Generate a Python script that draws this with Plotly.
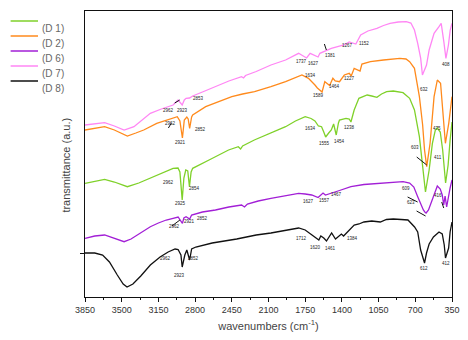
import plotly.graph_objects as go

# ---- FTIR spectra (wavenumber in cm^-1, transmittance in arbitrary units, offset per sample) ----
wn_d1 = [3850, 3757, 3663, 3570, 3446, 3337, 3227, 3103, 3010, 2963, 2945, 2923, 2907, 2889, 2870, 2854,
         2838, 2823, 2749, 2667, 2481, 2388, 2366, 2347, 2235, 2077, 1937, 1843, 1750, 1694, 1657, 1624,
         1594, 1573, 1555, 1526, 1501, 1479, 1454, 1433, 1423, 1361, 1330, 1314, 1283, 1238, 1159, 1115,
         1066, 1022, 973, 910, 817, 754, 708, 661, 630, 603, 568, 537, 509, 490, 462, 439, 411, 387, 368, 350]
t_d1 = [113.7, 116, 117.7, 115, 110.3, 114, 118.7, 124, 128.7, 129, 125, 97, 119, 127, 126, 110.3,
        125, 128.7, 133, 137, 147, 150.3, 148, 151, 157, 163.7, 170.3, 176, 180.3, 178.5, 176, 171,
        170.3, 165, 160, 164, 167, 173, 162, 174, 177, 178.7, 178, 175, 187, 198.7, 202, 201,
        199.7, 203, 205.3, 206, 204.3, 198.7, 187, 160.3, 127, 105, 127, 153.7, 167, 169, 165, 147, 114, 132, 157, 175]

wn_d2 = [3850, 3757, 3663, 3570, 3446, 3365, 3290, 3166, 3057, 2970, 2945, 2921, 2903, 2879, 2866, 2852,
         2833, 2823, 2699, 2590, 2450, 2347, 2233, 2077, 1937, 1781, 1719, 1657, 1634, 1589, 1563, 1535,
         1517, 1486, 1464, 1423, 1377, 1330, 1311, 1283, 1227, 1209, 1128, 1003, 910, 848, 789, 754, 708,
         661, 630, 612, 591, 570, 559, 521, 490, 459, 434, 413, 381, 350]
t_d2 = [167, 169, 170.3, 167, 161, 164, 167, 173.7, 177.5, 180.3, 176, 159, 177, 180, 178, 168.7,
        180, 182, 190.3, 194.5, 200.3, 203, 205.3, 210.3, 215.3, 222, 218.7, 212, 209, 205, 215.3, 213,
        211.5, 218.7, 216, 215.3, 222, 223.7, 221, 228.7, 226, 233, 235.3, 237, 238, 238.7, 238, 235.3, 228.7,
        200.3, 172, 147, 130.3, 147, 153.7, 200.3, 217, 213.7, 180.3, 153.7, 173.7, 200.3]

wn_d6 = [3850, 3757, 3663, 3570, 3477, 3411, 3353, 3290, 3227, 3150, 3075, 3010, 2962, 2921, 2907, 2886,
         2852, 2833, 2730, 2606, 2478, 2357, 2329, 2301, 2198, 2077, 1937, 1813, 1750, 1688, 1627, 1580,
         1557, 1501, 1467, 1423, 1314, 1190, 1034, 910, 817, 754, 714, 677, 649, 623, 609, 597, 574, 546,
         518, 490, 462, 443, 429, 416, 401, 387, 368, 350]
t_d6 = [58.7, 61, 62, 59, 55.3, 58, 62, 66, 70.3, 74, 77, 78.7, 80, 73.7, 79, 80.3,
        78, 82, 85, 87, 90, 92, 90, 93, 96, 98.7, 101.5, 103.7, 103, 102, 99.5, 104,
        102, 104.3, 105, 106.5, 110.3, 112.5, 113.7, 114.5, 115.3, 114, 110, 100.3, 93, 87, 85, 84, 87, 95,
        104, 111, 108, 102, 92, 101, 90, 99, 109, 117]

wn_d7 = [3850, 3757, 3663, 3570, 3477, 3383, 3290, 3227, 3122, 3010, 2962, 2945, 2923, 2903, 2886, 2853,
         2823, 2730, 2606, 2478, 2357, 2338, 2319, 2217, 2077, 1937, 1813, 1769, 1737, 1703, 1627, 1610,
         1548, 1501, 1381, 1330, 1267, 1221, 1152, 1066, 1003, 941, 863, 786, 742, 708, 677, 649, 632, 593,
         568, 521, 474, 453, 428, 408, 384, 367, 350]
t_d7 = [172, 173.5, 174.3, 171, 167, 170.3, 178, 183.7, 188, 192, 197, 195, 192, 197, 198.7, 199,
        201, 205, 210.3, 216, 220.3, 219, 221.5, 225.5, 232, 237, 243.7, 241, 239, 243.7, 240, 243.7,
        247, 248.7, 252, 255, 253, 262, 266, 268.7, 271.5, 273.7, 275, 275.3, 274, 267, 253.7, 239, 222, 232,
        247, 263.7, 270.3, 273.7, 255.3, 238.7, 252, 267, 273.7]

wn_d8 = [3850, 3757, 3682, 3617, 3542, 3486, 3449, 3393, 3318, 3227, 3134, 3057, 2991, 2962, 2935, 2923,
         2898, 2879, 2852, 2833, 2793, 2637, 2403, 2217, 2077, 1937, 1813, 1750, 1712, 1675, 1620, 1601,
         1573, 1547, 1517, 1498, 1461, 1405, 1384, 1330, 1283, 1237, 1190, 1115, 1034, 975, 910, 835, 770,
         707, 677, 649, 612, 593, 568, 527, 474, 443, 424, 412, 382, 368, 350]
t_d8 = [44, 44, 42, 35, 22, 13, 10, 13, 21, 32, 40, 45, 48, 47.5, 42, 30,
        42, 47, 37, 48, 50, 54, 58, 62, 64, 67, 69, 67, 64, 61, 57, 61,
        59, 56, 61, 64, 58, 63, 61, 67, 72, 73, 75, 76, 75, 77.5, 78, 77.5, 77,
        70, 65, 47, 34, 44, 53, 60, 65, 63, 52, 39, 49, 65, 75]

series = [
    ("(D 1)", wn_d1, t_d1, "#7fd12a"),
    ("(D 2)", wn_d2, t_d2, "#ff8a1c"),
    ("(D 6)", wn_d6, t_d6, "#a21fd6"),
    ("(D 7)", wn_d7, t_d7, "#ff86f4"),
    ("(D 8)", wn_d8, t_d8, "#111111"),
]

# peak annotations: (label, wavenumber position, transmittance position)
peak_labels = [
    ("2962", 3057, 187), ("2923", 2917, 187), ("2853", 2766, 199),
    ("1737", 1781, 236), ("1627", 1672, 234), ("1381", 1505, 242),
    ("1267", 1349, 252), ("1152", 1194, 254), ("632", 614, 208), ("408", 404, 233),
    ("2962", 3039, 174), ("2921", 2940, 155), ("2852", 2751, 168),
    ("1634", 1700, 222), ("1589", 1625, 202), ("1464", 1470, 211), ("1227", 1330, 219),
    ("2962", 3057, 115), ("2925", 2938, 94), ("2854", 2810, 109),
    ("1634", 1700, 169), ("1555", 1570, 154), ("1454", 1423, 156), ("1238", 1330, 170),
    ("603", 707, 150), ("475", 490, 169), ("411", 480, 140),
    ("2962", 2994, 71), ("2921", 2853, 76), ("2852", 2730, 79),
    ("1627", 1723, 96), ("1557", 1570, 97), ("1467", 1453, 103),
    ("609", 793, 109), ("623", 740, 95), ("416", 480, 102),
    ("2962", 3082, 39), ("2923", 2953, 22), ("2852", 2813, 39),
    ("1712", 1783, 59), ("1620", 1651, 50), ("1461", 1507, 49), ("1384", 1298, 59),
    ("612", 614, 29), ("412", 404, 34),
]

# short leader strokes: anchor (wavenumber, transmittance) and pixel offset (dx, dy, up = positive)
leaders = [
    (2947, 197, -5, -3), (3026, 174, -3, -5), (1548, 247, -2, 6),
    (591, 132, -10, 8), (678, 95, -10, 5), (602, 81, -9, 5),
    (2945, 77, -8, -6), (429, 89, -2, 6),
]

x_ticks = [3850, 3500, 3150, 2800, 2450, 2100, 1750, 1400, 1050, 700, 350]
x_minor = [3675, 3325, 2975, 2625, 2275, 1925, 1575, 1225, 875, 525]

fig = go.Figure()
for name, x, y, color in series:
    fig.add_trace(go.Scatter(x=x, y=y, mode="lines", name=name,
                             line=dict(color=color, width=1.3), showlegend=False))

for text, x, y in peak_labels:
    fig.add_annotation(x=x, y=y, text=text, showarrow=False,
                       font=dict(size=4.5, color="#222", family="Liberation Sans"))

for x, y, dx, dy in leaders:
    fig.add_shape(type="line", xref="x", yref="y", xsizemode="pixel", ysizemode="pixel",
                  xanchor=x, yanchor=y, x0=0, y0=0, x1=dx, y1=dy,
                  line=dict(color="#111", width=1))

# hand-drawn legend to the left of the plot
L, W, B, H = 85, 375, 297, 286
for i, (name, _, _, color) in enumerate(series):
    py = 21 + i * 15
    yp = (B - py) / H
    fig.add_shape(type="line", xref="paper", yref="paper",
                  x0=(9 - L) / W, x1=(37 - L) / W, y0=yp, y1=yp,
                  line=dict(color=color, width=1.5))
    fig.add_annotation(xref="paper", yref="paper", x=(39 - L) / W, y=yp, text=name,
                       showarrow=False, xanchor="left",
                       font=dict(size=10, color="#666", family="Liberation Sans"))

# vertical axis title
fig.add_annotation(xref="paper", yref="paper", x=(57 - L) / W, y=(B - 165) / H,
                   text="transmittance (a.u.)", textangle=-90, showarrow=False,
                   font=dict(size=11, color="#444", family="Liberation Sans"))

fig.update_layout(
    width=468, height=340,
    margin=dict(l=L, r=8, t=11, b=43),
    paper_bgcolor="white", plot_bgcolor="white",
    font=dict(family="Liberation Sans", color="#333"),
    xaxis=dict(range=[3850, 350], tickvals=x_ticks, ticks="outside", ticklen=4,
               tickcolor="#111", showline=True, linecolor="#111", linewidth=1.2, mirror=True,
               showgrid=False, zeroline=False, tickfont=dict(size=9, color="#333"),
               minor=dict(tickvals=x_minor, ticks="outside", ticklen=2, tickcolor="#111"),
               title=dict(text="wavenumbers (cm<sup>-1</sup>)", font=dict(size=11, color="#444"),
                          standoff=8)),
    yaxis=dict(range=[0, 286], tickvals=[44], showticklabels=False, ticks="outside", ticklen=4,
               tickcolor="#111", showline=True, linecolor="#111", linewidth=1.2, mirror=True,
               showgrid=False, zeroline=False),
)

fig.write_html("out.html")
